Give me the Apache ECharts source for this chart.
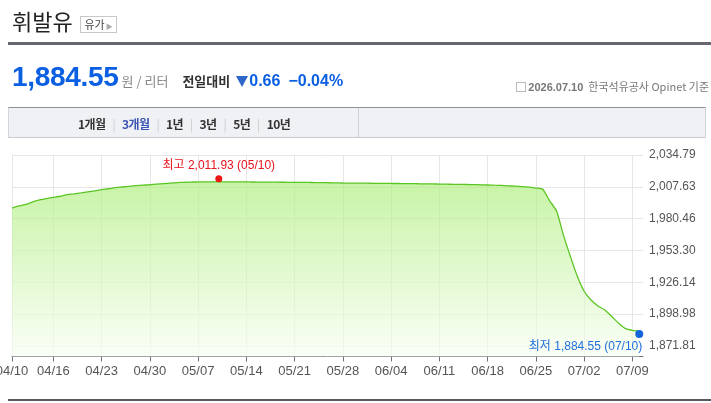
<!DOCTYPE html>
<html><head><meta charset="utf-8">
<script src="https://cdn.jsdelivr.net/npm/echarts@6/dist/echarts.min.js"></script>
<style>
html,body{margin:0;padding:0;width:711px;height:403px;overflow:hidden;background:#fff;font-family:"Liberation Sans","Noto Sans CJK KR",sans-serif;}
#chart{position:absolute;left:0;top:0;width:711px;height:403px;}
.abs{position:absolute;white-space:nowrap;}
</style></head>
<body>
<div id="chart"></div>
<div class="abs" style="left:12px;top:7px;font-size:22px;line-height:26px;color:#222;font-family:'Noto Sans CJK KR',sans-serif;">휘발유</div>
<div class="abs" style="left:80px;top:16px;width:37px;height:17px;border:1px solid #c8c8c8;box-sizing:border-box;font-size:11px;line-height:15px;color:#444;font-family:'Noto Sans CJK KR',sans-serif;text-align:center;">유가<span style="color:#aaa;font-size:7px;margin-left:1px;">▶</span></div>
<div class="abs" style="left:8px;top:42px;width:703px;height:3px;background:#64676e;"></div>
<div class="abs" style="left:12px;top:61px;line-height:32px;">
<span style="font-size:28px;font-weight:bold;color:#0b5fe3;letter-spacing:-0.3px;">1,884.55</span><span style="font-size:13px;color:#888;margin-left:3px;font-family:'Noto Sans CJK KR',sans-serif;">원 / 리터</span><span style="font-size:13px;color:#333;font-weight:bold;margin-left:14px;font-family:'Noto Sans CJK KR',sans-serif;">전일대비</span><span style="display:inline-block;width:0;height:0;border-left:6px solid transparent;border-right:6px solid transparent;border-top:11px solid #2f66c9;margin-left:6px;margin-right:1px;vertical-align:-1px;"></span><span style="font-size:16px;font-weight:bold;color:#0b5fe3;">0.66</span><span style="font-size:16px;font-weight:bold;color:#0b5fe3;margin-left:8px;">−0.04%</span>
</div>
<div class="abs" style="right:2px;top:78px;font-size:11px;line-height:16px;color:#777;font-family:'Noto Sans CJK KR',sans-serif;">
<span style="display:inline-block;width:10px;height:10px;border:1px solid #bbb;box-sizing:border-box;vertical-align:-1px;margin-right:2px;"></span><span style="font-weight:bold;color:#777;font-family:'Liberation Sans',sans-serif;">2026.07.10</span>&nbsp; 한국석유공사 Opinet 기준</div>
<div class="abs" style="left:8px;top:107px;width:698px;height:31px;background:#f0f1f5;border-top:1px solid #8f9199;border-bottom:1px solid #c9cacd;border-left:1px solid #d4d5d8;border-right:1px solid #d4d5d8;box-sizing:border-box;"></div>
<div class="abs" style="left:358px;top:108px;width:1px;height:29px;background:#cfd0d3;"></div>
<div class="abs" style="left:78px;top:115px;font-size:12px;line-height:17px;font-weight:bold;color:#333;font-family:'Noto Sans CJK KR',sans-serif;letter-spacing:-0.6px;">
<span>1개월</span><span style="color:#ccc;font-weight:normal;margin:0 7px;">|</span><span style="color:#3b55b2;">3개월</span><span style="color:#ccc;font-weight:normal;margin:0 7px;">|</span><span>1년</span><span style="color:#ccc;font-weight:normal;margin:0 7px;">|</span><span>3년</span><span style="color:#ccc;font-weight:normal;margin:0 7px;">|</span><span>5년</span><span style="color:#ccc;font-weight:normal;margin:0 7px;">|</span><span>10년</span></div>
<div class="abs" style="left:8px;top:399px;width:703px;height:2px;background:#58595c;"></div>
<script>
// ---- data ----
const startDate = '2026-04-10';
const dayCount = 92;
const dates = [];
(function(){const d0=new Date(startDate+'T00:00:00Z');for(let i=0;i<dayCount;i++){const d=new Date(d0.getTime()+i*86400000);dates.push(String(d.getUTCMonth()+1).padStart(2,'0')+'/'+String(d.getUTCDate()).padStart(2,'0'));}})();
const prices = [
1989.5, 1991.3, 1992.6, 1994.8, 1996.4, 1997.6, 1998.6, 1999.6, 2000.9, 2001.6,
2002.4, 2003.3, 2004.2, 2005.2, 2006.0, 2006.9, 2007.5, 2008.1, 2008.6, 2009.0,
2009.4, 2009.9, 2010.4, 2010.8, 2011.2, 2011.5, 2011.7, 2011.8, 2011.85, 2011.9,
2011.93, 2011.92, 2011.9, 2011.85, 2011.8, 2011.75, 2011.7, 2011.65, 2011.6, 2011.55,
2011.5, 2011.45, 2011.4, 2011.35, 2011.3, 2011.2, 2011.1, 2011.0, 2010.9, 2010.85,
2010.8, 2010.75, 2010.7, 2010.6, 2010.55, 2010.5, 2010.45, 2010.4, 2010.35, 2010.25,
2010.2, 2010.1, 2010.0, 2009.9, 2009.8, 2009.7, 2009.6, 2009.5, 2009.35, 2009.2,
2009.0, 2008.8, 2008.5, 2008.2, 2007.8, 2007.3, 2006.6, 2005.6, 1995.7, 1987.0,
1966.4, 1948.3, 1931.5, 1918.5, 1911.0, 1906.0, 1902.6, 1897.0, 1891.2, 1886.6,
1885.21, 1884.55
];
const yTicks = [1871.81, 1898.98, 1926.14, 1953.30, 1980.46, 2007.63, 2034.79];
const xTickDates = ['04/10','04/16','04/23','04/30','05/07','05/14','05/21','05/28','06/04','06/11','06/18','06/25','07/02','07/09'];

// ---- chart ----
const fmt = v => Number(v).toLocaleString('en-US',{minimumFractionDigits:2,maximumFractionDigits:2});
const xIdx = xTickDates.map(d => dates.indexOf(d));
let maxI = 0, minI = 0;
prices.forEach((v,i)=>{ if(v>prices[maxI]) maxI=i; if(v<prices[minI]) minI=i; });
const FONT = "'Liberation Sans','Noto Sans CJK KR',sans-serif";

const chart = echarts.init(document.getElementById('chart'), null, {renderer:'canvas'});
chart.setOption({
  animation:false,
  grid:{left:12, right:68, top:155, bottom:46.5, containLabel:false, outerBoundsMode:'none'},
  xAxis:{
    type:'value', min:0, max:91.54,
    axisLine:{show:true, onZero:false, lineStyle:{color:'#6e7079', width:1}},
    axisTick:{show:true, customValues:xIdx, length:5, lineStyle:{color:'#6e7079'}},
    axisLabel:{customValues:xIdx, formatter:v=>dates[Math.round(v)], color:'#555', fontSize:13, fontFamily:FONT, margin:8},
    splitLine:{show:true, lineStyle:{color:'#e6e6e6', width:1}}
  },
  yAxis:{
    type:'value', position:'right', min:1862.84, max:2034.79, scale:true,
    axisLine:{show:false}, axisTick:{show:false, customValues:yTicks},
    axisLabel:{customValues:yTicks, formatter:v=>fmt(v), color:'#555', fontSize:12, fontFamily:FONT, margin:6},
    splitLine:{show:true, lineStyle:{color:'#e6e6e6', width:1}}
  },
  series:[{
    type:'line',
    data:prices.map((v,i)=>[i,v]),
    showSymbol:false, symbol:'none', smooth:0.2,
    lineStyle:{color:'#5bc524', width:1.3},
    areaStyle:{color:new echarts.graphic.LinearGradient(0,0,0,1,[{offset:0,color:'#b0ee80'},{offset:1,color:'#f8fef3'}])},
    markPoint:{
      symbol:'circle',
      data:[
        {type:'max', symbolSize:7, symbolOffset:[0,-3], itemStyle:{color:'#f01616'},
         label:{show:true, position:'top', distance:4, color:'#e8141e', fontSize:12, fontFamily:FONT,
           formatter:'최고 '+fmt(prices[maxI])+' ('+dates[maxI]+')'}},
        {type:'min', symbolSize:8, symbolOffset:[0,3], itemStyle:{color:'#1565d8'},
         label:{show:true, position:'bottom', align:'right', distance:3, offset:[3,0], color:'#1f6fdc', fontSize:12, fontFamily:FONT,
           formatter:'최저 '+fmt(prices[minI])+' ('+dates[minI]+')'}}
      ]
    }
  }]
});
</script>
</body></html>
